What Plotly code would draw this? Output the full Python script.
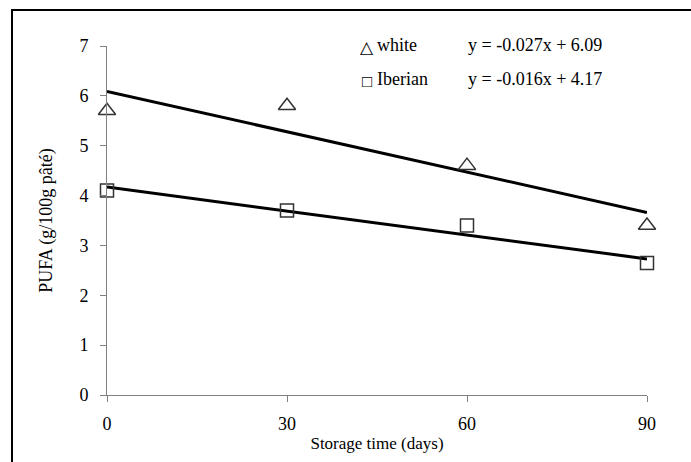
import plotly.graph_objects as go

days = [0, 30, 60, 90]
white = [5.7, 5.8, 4.6, 3.4]
iberian = [4.1, 3.7, 3.4, 2.65]
white_fit = [-0.027, 6.09]
iberian_fit = [-0.016, 4.17]
x_ticks = [0, 30, 60, 90]
y_ticks = [0, 1, 2, 3, 4, 5, 6, 7]

FONT = "Liberation Serif"
fig = go.Figure()

for fit in (white_fit, iberian_fit):
    xs = [days[0], days[-1]]
    fig.add_trace(go.Scatter(x=xs, y=[fit[0] * v + fit[1] for v in xs], mode="lines",
                             line=dict(color="black", width=3), showlegend=False,
                             hoverinfo="skip", cliponaxis=False))

fig.add_trace(go.Scatter(x=days, y=white, mode="markers", name="white",
                         marker=dict(symbol="triangle-up-open", size=15, color="#333333",
                                     line=dict(width=1.5, color="#333333")),
                         cliponaxis=False, showlegend=False))
fig.add_trace(go.Scatter(x=days, y=iberian, mode="markers", name="Iberian",
                         marker=dict(symbol="square-open", size=13, color="#333333",
                                     line=dict(width=1.5, color="#333333")),
                         cliponaxis=False, showlegend=False))

def eq(fit):
    return "y = %.3fx + %.2f" % (fit[0], fit[1])

fs = 18
ann = [
    dict(text="△", x=367, y=47, size=17, anchor="center"),
    dict(text="white", x=375, y=45, size=fs, anchor="left"),
    dict(text=eq(white_fit), x=535, y=45, size=fs, anchor="center"),
    dict(text="□", x=367, y=81, size=17, anchor="center"),
    dict(text="Iberian", x=375, y=79, size=fs, anchor="left"),
    dict(text=eq(iberian_fit), x=535, y=79, size=fs, anchor="center"),
]
L, R, T, B = 107, 647, 46, 395
for a in ann:
    fig.add_annotation(text=a["text"], xref="paper", yref="paper",
                       x=(a["x"] - L) / (R - L), y=(B - a["y"]) / (B - T),
                       showarrow=False, xanchor=a["anchor"], yanchor="middle",
                       font=dict(family=FONT, size=a["size"], color="black"))

fig.add_shape(type="rect", xref="paper", yref="paper",
              x0=(12 - L) / (R - L), x1=(800 - L) / (R - L),
              y0=(B - 500) / (B - T), y1=(B - 10) / (B - T),
              line=dict(color="black", width=2), layer="below")

fig.update_layout(
    width=691, height=462,
    margin=dict(l=L, r=691 - R, t=T, b=462 - B),
    paper_bgcolor="white", plot_bgcolor="white",
    font=dict(family=FONT, size=fs, color="black"),
    xaxis=dict(range=[0, 90], tickvals=x_ticks, showgrid=False, zeroline=False,
               showline=True, linecolor="#808080", linewidth=1,
               ticks="outside", ticklen=6, tickcolor="#808080",
               ticklabelstandoff=6, tickfont=dict(size=18),
               title=dict(text="Storage time (days)", standoff=4,
                          font=dict(family=FONT, size=17))),
    yaxis=dict(range=[0, 7], tickvals=y_ticks, showgrid=False, zeroline=False,
               showline=True, linecolor="#808080", linewidth=1,
               ticks="outside", ticklen=6, tickcolor="#808080",
               ticklabelstandoff=8, tickfont=dict(size=18),
               title=dict(text="PUFA (g/100g pâté)", standoff=22,
                          font=dict(family=FONT, size=18))),
)

fig.write_html("out.html")
